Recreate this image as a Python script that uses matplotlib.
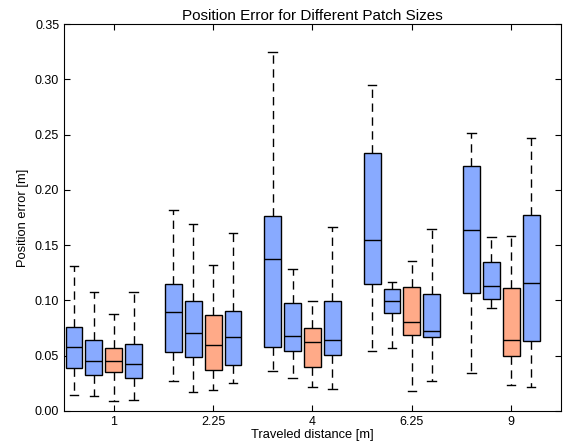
import matplotlib
matplotlib.use("Agg")
import matplotlib.pyplot as plt
import numpy as np

plt.rcParams['font.family'] = ['Liberation Sans', 'DejaVu Sans']

# x categories (traveled distance)
distances = ["1", "2.25", "4", "6.25", "9"]
series_colors = ["#88aaff", "#88aaff", "#ffaa88", "#88aaff"]

# box stats per series, one value per distance group
whislo = [
    [0.0145, 0.0275, 0.0363, 0.0541, 0.0345],
    [0.0133, 0.0169, 0.0296, 0.0568, 0.0928],
    [0.0088, 0.0193, 0.0221, 0.0184, 0.0236],
    [0.0100, 0.0251, 0.0196, 0.0275, 0.0221],
]
q1 = [
    [0.0387, 0.0535, 0.0580, 0.1152, 0.1064],
    [0.0323, 0.0484, 0.0541, 0.0889, 0.1010],
    [0.0357, 0.0372, 0.0396, 0.0683, 0.0496],
    [0.0300, 0.0420, 0.0510, 0.0665, 0.0632],
]
med = [
    [0.0583, 0.0895, 0.1375, 0.1548, 0.1638],
    [0.0450, 0.0710, 0.0677, 0.0991, 0.1130],
    [0.0456, 0.0595, 0.0620, 0.0807, 0.0644],
    [0.0429, 0.0671, 0.0641, 0.0725, 0.1158],
]
q3 = [
    [0.0762, 0.1149, 0.1765, 0.2330, 0.2218],
    [0.0640, 0.0994, 0.0979, 0.1106, 0.1348],
    [0.0568, 0.0870, 0.0753, 0.1124, 0.1109],
    [0.0610, 0.0904, 0.0991, 0.1058, 0.1771],
]
whishi = [
    [0.1309, 0.1820, 0.3243, 0.2950, 0.2512],
    [0.1080, 0.1690, 0.1288, 0.1170, 0.1575],
    [0.0873, 0.1320, 0.0991, 0.1357, 0.1580],
    [0.1076, 0.1608, 0.1665, 0.1644, 0.2472],
]

offsets = [-0.4, -0.2, 0.0, 0.2]
w = 0.17

fig = plt.figure(figsize=(5.64, 4.46), dpi=100)
ax = fig.add_axes([0.1135, 0.0785, 0.881, 0.8675])

base = np.arange(1, len(distances) + 1)
for s in range(4):
    stats = []
    for g in range(len(distances)):
        stats.append(dict(med=med[s][g], q1=q1[s][g], q3=q3[s][g],
                          whislo=whislo[s][g], whishi=whishi[s][g], fliers=[]))
    ax.bxp(stats, positions=base + offsets[s], widths=w, patch_artist=True,
           showfliers=False, manage_ticks=False,
           boxprops=dict(facecolor=series_colors[s], edgecolor="black", linewidth=1.0),
           medianprops=dict(color="black", linewidth=1.0),
           whiskerprops=dict(color="black", linestyle=(0, (6, 4)), linewidth=1.0),
           capprops=dict(color="black", linewidth=1.0),
           capwidths=w / 2)

ax.set_xlim(0.5, 5.5)
ax.set_ylim(0, 0.35)
ax.set_xticks(base)
ax.set_xticklabels(distances)
ax.set_yticks(np.arange(0, 0.351, 0.05))
ax.set_yticklabels([f"{v:.2f}" for v in np.arange(0, 0.351, 0.05)])
ax.tick_params(direction="in", top=True, right=True, labelsize=9, length=4)
ax.set_xlabel("Traveled distance [m]", fontsize=9.3, labelpad=1)
ax.set_ylabel("Position error [m]", fontsize=9.3)
ax.set_title("Position Error for Different Patch Sizes", fontsize=11, pad=3)

fig.savefig("out.png", dpi=100)
